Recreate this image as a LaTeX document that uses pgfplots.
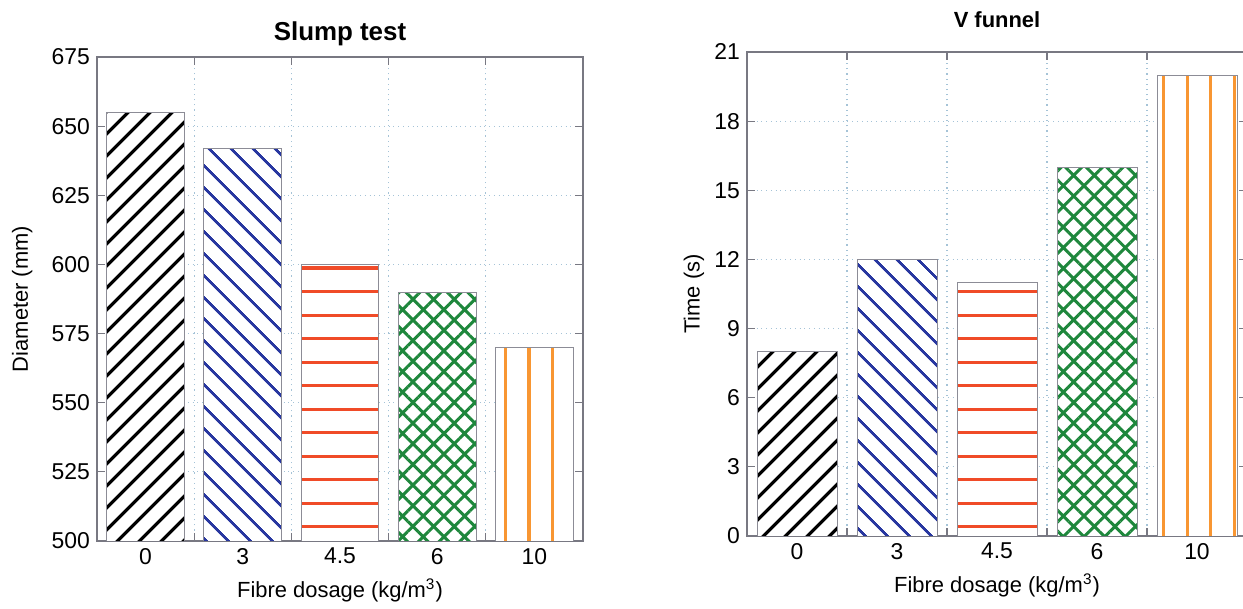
\documentclass[border=0pt]{standalone}
\usepackage{fontspec}
\setmainfont{Liberation Sans}
\usepackage{pgfplots}
\pgfplotsset{compat=1.18}
\usetikzlibrary{patterns.meta}
\definecolor{cblue}{RGB}{40,55,160}
\definecolor{cred}{RGB}{240,75,40}
\definecolor{cgreen}{RGB}{30,135,60}
\definecolor{corange}{RGB}{248,150,50}
\definecolor{gridc}{RGB}{165,195,215}
\definecolor{axisc}{RGB}{120,120,130}
\definecolor{barc}{RGB}{140,140,150}
\pgfdeclarepatternformonly{vlinesA}{\pgfqpoint{0pt}{-1pt}}{\pgfqpoint{11.8pt}{12.8pt}}{\pgfqpoint{11.8pt}{11.8pt}}{%
  \pgfsetlinewidth{1.6pt}%
  \pgfpathmoveto{\pgfqpoint{5.9pt}{-1pt}}\pgfpathlineto{\pgfqpoint{5.9pt}{12.8pt}}\pgfusepath{stroke}}
\pgfdeclarepatternformonly{hlinesA}{\pgfqpoint{-1pt}{0pt}}{\pgfqpoint{12.8pt}{11.8pt}}{\pgfqpoint{11.8pt}{11.8pt}}{%
  \pgfsetlinewidth{1.6pt}%
  \pgfpathmoveto{\pgfqpoint{-1pt}{5.9pt}}\pgfpathlineto{\pgfqpoint{12.8pt}{5.9pt}}\pgfusepath{stroke}}
\pgfplotsset{
  myax/.style={
    scale only axis,
    height=242bp,
    xmin=-0.5, xmax=4.5,
    xtick={0,1,2,3,4}, xticklabels={0,3,4.5,6,10},
    minor xtick={0.5,1.5,2.5,3.5},
    xminorgrids=true, ymajorgrids=true,
    grid style={dotted, gridc, line width=0.6bp},
    minor grid style={dotted, gridc, line width=0.6bp},
    major x tick style={draw=none},
    tick align=inside, tick pos=both,
    axis line style={axisc, line width=0.6bp},
    tick style={axisc, line width=0.6bp},
    major tick length=4bp, minor tick length=4bp,
    ticklabel style={font=\fontsize{11.5}{12}\selectfont, text=black},
    label style={font=\fontsize{11}{13}\selectfont},
    /pgf/number format/assume math mode=true,
    xlabel={Fibre dosage (kg/m\textsuperscript{3})},
    xlabel style={at={(axis description cs:0.5,0)}, anchor=center, yshift=-24.5bp},
  },
  mybar/.style={ybar, bar width=0.8, bar shift=0pt, draw=barc, line width=0.5bp, fill=white},
}
\begin{document}
\begin{tikzpicture}
\begin{axis}[myax, at={(48.5bp,34bp)}, anchor=south west, width=243bp,
  ymin=500, ymax=675, ytick={500,525,...,675},
  title={Slump test},
  title style={font=\bfseries\fontsize{13}{15}\selectfont, at={(axis description cs:0.5,1)}, anchor=center, yshift=5.5bp},
  ylabel={Diameter (mm)},
  ylabel style={at={(axis description cs:-0.154,0.5)}, anchor=center},
]
\addplot[mybar, postaction={pattern color=black, pattern={Lines[angle=45,distance=8.1bp,line width=1.8bp]}}] coordinates {(0,655)};
\addplot[mybar, postaction={pattern color=cblue, pattern={Lines[angle=-45,distance=8.1bp,line width=1.5bp]}}] coordinates {(1,642)};
\addplot[mybar, postaction={pattern color=cred, pattern=hlinesA}] coordinates {(2,600)};
\addplot[mybar, postaction={pattern color=cgreen, pattern={Hatch[angle=45,distance=7.3bp,line width=1.5bp]}}] coordinates {(3,590)};
\addplot[mybar, postaction={pattern color=corange, pattern=vlinesA}] coordinates {(4,570)};
\end{axis}
\begin{axis}[myax, at={(373.5bp,36.5bp)}, anchor=south west, width=250bp,
  ymin=0, ymax=21, ytick={0,3,...,21},
  title={V funnel},
  title style={font=\bfseries\fontsize{11}{13}\selectfont, at={(axis description cs:0.5,1)}, anchor=center, yshift=10bp},
  ylabel={Time (s)},
  ylabel style={at={(axis description cs:-0.106,0.5)}, anchor=center},
]
\addplot[mybar, postaction={pattern color=black, pattern={Lines[angle=45,distance=8.1bp,line width=1.8bp]}}] coordinates {(0,8)};
\addplot[mybar, postaction={pattern color=cblue, pattern={Lines[angle=-45,distance=8.1bp,line width=1.5bp]}}] coordinates {(1,12)};
\addplot[mybar, postaction={pattern color=cred, pattern=hlinesA}] coordinates {(2,11)};
\addplot[mybar, postaction={pattern color=cgreen, pattern={Hatch[angle=45,distance=7.3bp,line width=1.5bp]}}] coordinates {(3,16)};
\addplot[mybar, postaction={pattern color=corange, pattern=vlinesA}] coordinates {(4,20)};
\end{axis}
\pgfresetboundingbox
\path[use as bounding box] (0,0) rectangle (621.5bp,304.5bp);
\end{tikzpicture}
\end{document}
